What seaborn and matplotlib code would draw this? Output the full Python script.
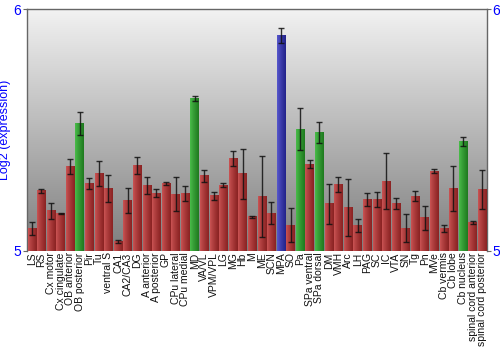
import numpy as np
import pandas as pd
import matplotlib
matplotlib.use("Agg")
import matplotlib.pyplot as plt
import seaborn as sns
from matplotlib.colors import LinearSegmentedColormap

labels = ["LS", "RS", "Cx motor", "Cx cingulate", "OB anterior", "OB posterior", "Pir", "Tu",
          "ventral S", "CA1", "CA2/CA3", "DG", "A anterior", "A posterior", "GP", "CPu lateral",
          "CPu medial", "MD", "VA/VL", "VPM/VPL", "LG", "MG", "Hb", "M", "ME", "SCN", "MPA", "SO",
          "Pa", "SPa ventral", "SPa dorsal", "DM", "VMH", "Arc", "LH", "PAG", "SC", "IC", "VTA",
          "SN", "Tg", "Pn", "MVe", "Cb vermis", "Cb lobe", "Cb nucleus", "spinal cord anterior",
          "spinal cord posterior"]
values = [5.093, 5.250, 5.167, 5.155, 5.349, 5.528, 5.280, 5.319,
          5.258, 5.040, 5.210, 5.354, 5.271, 5.239, 5.280, 5.235,
          5.239, 5.630, 5.311, 5.229, 5.272, 5.383, 5.320, 5.141, 5.227, 5.156, 5.894, 5.106,
          5.504, 5.360, 5.492, 5.195, 5.276, 5.181, 5.106, 5.213, 5.214, 5.289, 5.198,
          5.095, 5.227, 5.137, 5.330, 5.093, 5.260, 5.453, 5.119,
          5.256]
errors = [0.025, 0.008, 0.033, 0.003, 0.031, 0.048, 0.022, 0.052,
          0.055, 0.007, 0.052, 0.036, 0.034, 0.016, 0.005, 0.070,
          0.031, 0.010, 0.025, 0.017, 0.008, 0.032, 0.104, 0.003, 0.168, 0.045, 0.031, 0.071,
          0.087, 0.017, 0.043, 0.083, 0.030, 0.118, 0.027, 0.026, 0.030, 0.117, 0.023,
          0.057, 0.022, 0.050, 0.008, 0.013, 0.093, 0.019, 0.006,
          0.081]
groups = ["red"] * len(labels)
for name in ["OB posterior", "MD", "Pa", "SPa dorsal", "Cb nucleus"]:
    groups[labels.index(name)] = "green"
groups[labels.index("MPA")] = "blue"

y_ticks = [5, 6]
y_label = "Log2 (expression)"

light = {"red": "#cc5555", "green": "#4cbf4c", "blue": "#5a5ad0"}
dark = {"red": "#8a2222", "green": "#1f7a1f", "blue": "#22228a"}

df = pd.DataFrame({"label": labels, "value": values, "err": errors, "group": groups})

plt.rcParams["font.family"] = ["Liberation Sans", "DejaVu Sans"]
fig = plt.figure(figsize=(5, 3.5), dpi=100)
ax = fig.add_axes([0.054, 0.283, 0.920, 0.690])

sns.barplot(data=df, x="label", y="value", hue="label",
            palette=[light[g] for g in groups], legend=False,
            width=0.88, errorbar=None, ax=ax, zorder=2)

ymin, ymax = y_ticks[0], y_ticks[-1]
ax.set_ylim(ymin, ymax)
ax.set_xlim(-0.5, len(labels) - 0.5)

# background gradient
bg = np.linspace(0, 1, 256).reshape(-1, 1)
bg_cmap = LinearSegmentedColormap.from_list("bg", ["#7e7e7e", "#f2f2f2"])
ax.imshow(bg, cmap=bg_cmap, aspect="auto", extent=[0, 1, 0, 1],
          transform=ax.transAxes, origin="lower", zorder=0)

# bar gradients
for patch, g in zip(ax.patches, groups):
    x0, y0 = patch.get_x(), patch.get_y()
    w, h = patch.get_width(), patch.get_height()
    cmap = LinearSegmentedColormap.from_list(g, [light[g], dark[g]])
    ax.imshow(np.linspace(0, 1, 64).reshape(1, -1) ** 0.8, cmap=cmap, aspect="auto",
              extent=[x0, x0 + w, ymin, y0 + h], zorder=3, interpolation="bilinear")

ax.errorbar(np.arange(len(labels)), values, yerr=errors, fmt="none",
            ecolor="#111111", elinewidth=1, capsize=2.5, capthick=1, alpha=0.85, zorder=4)

ax.set_xlim(-0.5, len(labels) - 0.5)
ax.set_ylim(ymin, ymax)
ax.set_yticks(y_ticks)
ax.set_yticklabels([str(t) for t in y_ticks], color="#0000ff", fontsize=10)
ax.tick_params(axis="y", which="both", left=True, right=True, labelleft=True, labelright=True,
               length=3, color="#666666", pad=1)
ax.set_xlabel("")
ax.set_ylabel(y_label, color="#0000ff", fontsize=9, labelpad=2)
ax.set_xticks(np.arange(len(labels)))
ax.set_xticklabels(labels, rotation=90, fontsize=7.5, color="#111111")
ax.tick_params(axis="x", length=0, pad=1)
for side in ["top", "left", "right"]:
    ax.spines[side].set_color("#666666")
    ax.spines[side].set_linewidth(1)
ax.spines["bottom"].set_visible(False)

fig.savefig("out.png", dpi=100)
